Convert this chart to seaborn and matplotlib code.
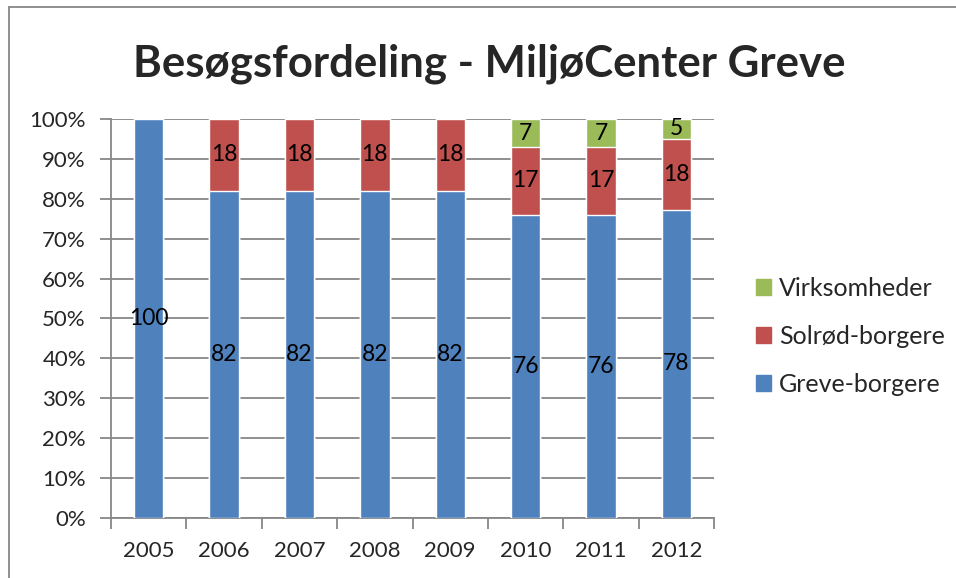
import pandas as pd
import matplotlib
matplotlib.use("Agg")
import matplotlib.pyplot as plt
import seaborn as sns
import numpy as np

sns.set_theme(style="white")
plt.rcParams["font.family"] = ["Lato", "DejaVu Sans"]

years = ["2005", "2006", "2007", "2008", "2009", "2010", "2011", "2012"]
greve = [100, 82, 82, 82, 82, 76, 76, 78]
solrod = [0, 18, 18, 18, 18, 17, 17, 18]
virk = [0, 0, 0, 0, 0, 7, 7, 5]

BLUE, RED, GREEN = "#4F81BD", "#C0504D", "#9BBB59"
GRID = "#878787"

df = pd.DataFrame({"year": years, "greve": greve, "solrod": solrod, "virk": virk})
tot = df[["greve", "solrod", "virk"]].sum(axis=1)
df["p_greve"] = df["greve"] / tot
df["p_solrod"] = df["solrod"] / tot
df["p_virk"] = df["virk"] / tot
df["c1"] = df["p_greve"]
df["c2"] = df["c1"] + df["p_solrod"]
df["c3"] = df["c2"] + df["p_virk"]

fig = plt.figure(figsize=(9.56, 5.78), dpi=100)
ax = fig.add_axes([0.116, 0.104, 0.631, 0.690])

# stacked via overlay of cumulative totals, top layer first
for col, color in [("c3", GREEN), ("c2", RED), ("c1", BLUE)]:
    sns.barplot(data=df, x="year", y=col, color=color, width=0.39,
                saturation=1, ax=ax, zorder=3)

# segment labels
for i, row in df.iterrows():
    bottom = 0
    for val, pct in [(row["greve"], row["p_greve"]), (row["solrod"], row["p_solrod"]),
                     (row["virk"], row["p_virk"])]:
        if val > 0:
            ax.text(i, bottom + pct / 2, f"{val:g}", ha="center", va="center",
                    fontsize=16.5, color="black", zorder=5)
        bottom += pct

ax.set_ylim(0, 1)
ax.set_xlim(-0.5, len(years) - 0.5)
ax.set_yticks(np.linspace(0, 1, 11))
ax.set_yticklabels([f"{int(round(v * 100))}%" for v in np.linspace(0, 1, 11)], fontsize=16)
ax.yaxis.grid(True, color=GRID, linewidth=1.3, zorder=0)
ax.set_axisbelow(True)
ax.set_xlabel("")
ax.set_ylabel("")
ax.tick_params(axis="y", length=8, width=1.3, color=GRID, pad=10, left=True)
ax.set_xticks(range(len(years)))
ax.set_xticklabels(years, fontsize=16)
ax.set_xticks(np.arange(-0.5, len(years)), minor=True)
ax.tick_params(axis="x", which="major", length=0, pad=17)
ax.tick_params(axis="x", which="minor", length=8, width=1.3, color=GRID, bottom=True)
for s in ["top", "right"]:
    ax.spines[s].set_visible(False)
for s in ["left", "bottom"]:
    ax.spines[s].set_color(GRID)
    ax.spines[s].set_linewidth(1.3)

fig.text(0.512, 0.890, "Besøgsfordeling - MiljøCenter Greve", ha="center", va="center",
         fontsize=31.5, fontweight="bold")

handles = [plt.Rectangle((0, 0), 1, 1, color=c) for c in (GREEN, RED, BLUE)]
fig.legend(handles, ["Virksomheder", "Solrød-borgere", "Greve-borgere"],
           loc="center left", bbox_to_anchor=(0.791, 0.418), frameon=False,
           fontsize=18, handlelength=0.6, handleheight=0.6, handletextpad=0.3,
           labelspacing=1.0, borderaxespad=0, borderpad=0)

# chart area border (top and left visible)
fig.add_artist(plt.Line2D([0.0094, 1], [0.988, 0.988], color=GRID, linewidth=1.3))
fig.add_artist(plt.Line2D([0.0094, 0.0094], [0, 0.988], color=GRID, linewidth=1.3))

fig.savefig("out.png", dpi=100)
